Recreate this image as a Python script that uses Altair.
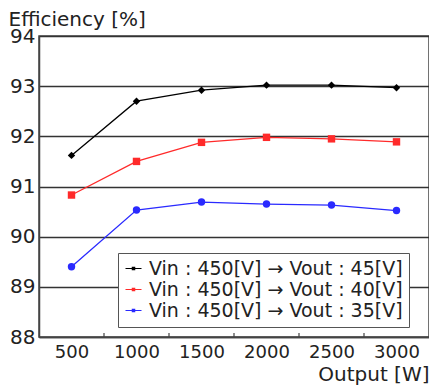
import altair as alt
import pandas as pd

outputs = [500, 1000, 1500, 2000, 2500, 3000]
series_names = [
    "Vin : 450[V] → Vout : 45[V]",
    "Vin : 450[V] → Vout : 40[V]",
    "Vin : 450[V] → Vout : 35[V]",
]
eff_45 = [91.62, 92.70, 92.92, 93.02, 93.02, 92.97]
eff_40 = [90.83, 91.50, 91.88, 91.98, 91.95, 91.89]
eff_35 = [89.40, 90.53, 90.69, 90.65, 90.63, 90.52]
colors = ["#000000", "#ff2a2a", "#2a2aff"]
shapes = ["diamond", "square", "circle"]
y_ticks = [88, 89, 90, 91, 92, 93, 94]
minor_ticks = [750, 1250, 1750, 2250, 2750]

rows = []
for name, vals in zip(series_names, [eff_45, eff_40, eff_35]):
    for x, v in zip(outputs, vals):
        rows.append({"Output": x, "Efficiency": v, "Series": name, "Marker": name})
df = pd.DataFrame(rows)
df_minor = pd.DataFrame({"Output": minor_ticks})

FONT = "DejaVu Sans"
xscale = alt.Scale(domain=[250, 3250], nice=False, zero=False)
yscale = alt.Scale(domain=[88, 94], nice=False, zero=False)
cscale = alt.Scale(domain=series_names, range=colors)
sscale = alt.Scale(domain=series_names, range=shapes)

legend_path = "M-1,-0.07H1V0.07H-1Z M-0.22,-0.22H0.22V0.22H-0.22Z"

x_enc = alt.X(
    "Output:Q", scale=xscale,
    axis=alt.Axis(values=outputs, format="d", title="Output [W]", labelFontSize=18, labelFont=FONT,
                  labelColor="#222", tickSize=0, labelPadding=6, grid=False,
                  domainColor="#444", domainWidth=1.5,
                  titleFontSize=20, titleFont=FONT, titleFontWeight="normal", titleColor="#222",
                  titleX=390, titleY=43, titleAlign="right", titleAnchor="end",
                  titleBaseline="alphabetic"),
)
y_enc = alt.Y(
    "Efficiency:Q", scale=yscale,
    axis=alt.Axis(values=y_ticks, title="Efficiency [%]", labelFontSize=20, labelFont=FONT,
                  labelColor="#222", tickSize=0, labelPadding=4, grid=True,
                  gridColor="#333", gridWidth=1.3, domainColor="#444", domainWidth=1.5,
                  titleFontSize=20, titleFont=FONT, titleFontWeight="normal", titleColor="#222",
                  titleAngle=0, titleX=-31, titleY=-11, titleAlign="left",
                  titleBaseline="alphabetic"),
)

lines = alt.Chart(df).mark_line(strokeWidth=1.3).encode(
    x=x_enc, y=y_enc,
    color=alt.Color("Series:N", scale=cscale, sort=series_names,
                    legend=alt.Legend(
                        title=None, orient="none", legendX=79, legendY=217,
                        fillColor="white", strokeColor="#555", padding=6,
                        symbolType=legend_path, symbolSize=256, symbolStrokeWidth=0,
                        labelFontSize=19, labelFont=FONT, labelColor="#222",
                        labelLimit=0, rowPadding=1, labelOffset=6, symbolOffset=0)),
)

points = alt.Chart(df).mark_point(filled=True, size=55, opacity=1).encode(
    x="Output:Q", y="Efficiency:Q",
    fill=alt.Fill("Marker:N", scale=cscale, legend=None),
    shape=alt.Shape("Marker:N", scale=sscale, legend=None),
)

minor = alt.Chart(df_minor).mark_rule(color="#444", strokeWidth=1.2).encode(
    x="Output:Q",
    y=alt.value(301), y2=alt.value(297),
)

chart = alt.layer(minor, lines, points).resolve_scale(
    shape="independent"
).properties(
    width=390, height=301,
    autosize=alt.AutoSizeParams(type="none"),
    padding={"left": 31, "top": 28, "right": 0, "bottom": 52},
).configure_view(stroke="#444", strokeWidth=1.5)

chart.save("out.html", embed_options={"renderer": "svg", "actions": False})
